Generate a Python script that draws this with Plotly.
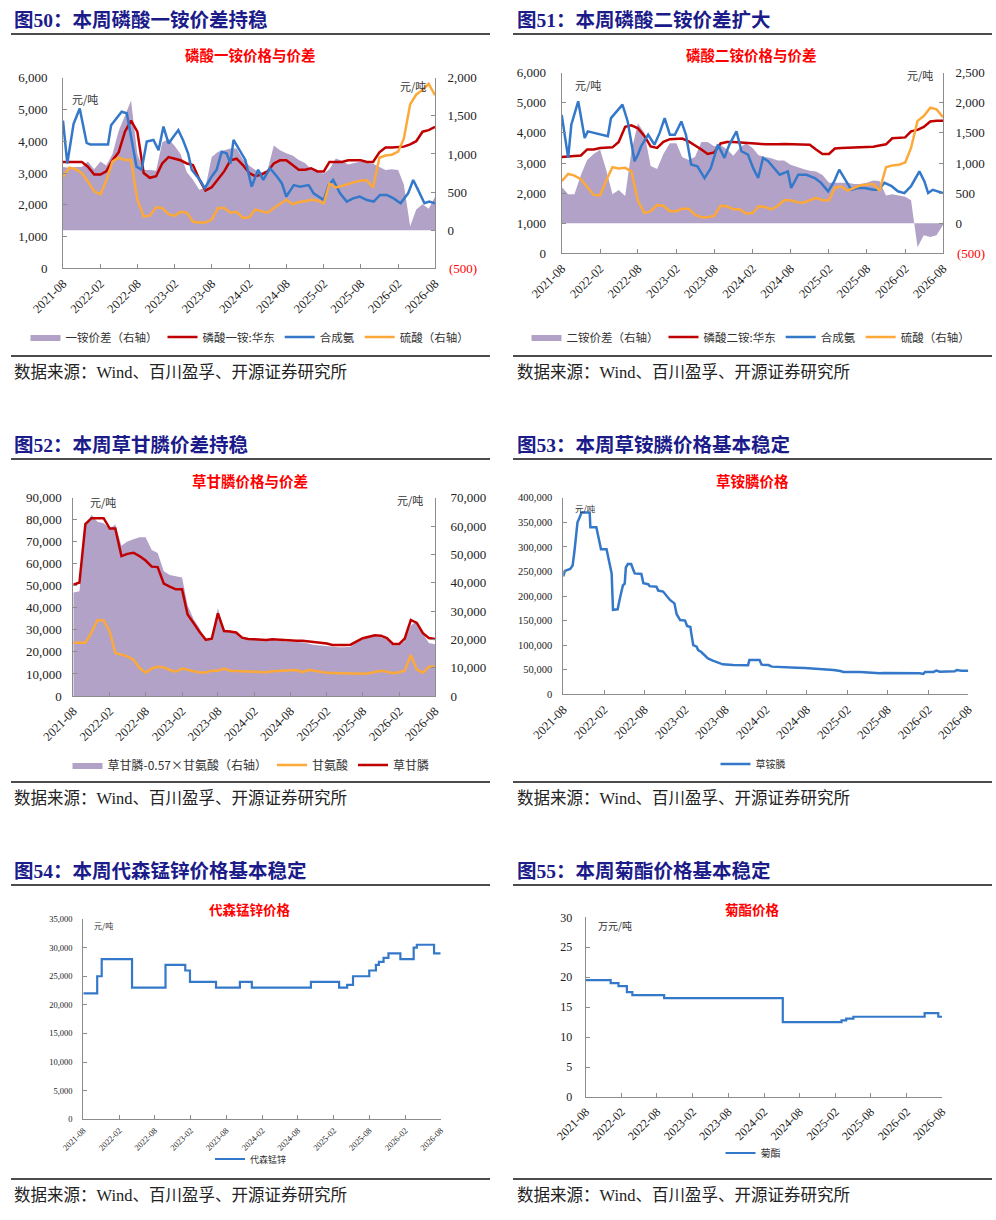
import plotly.graph_objects as go
import pandas as pd

W, H = 996, 1220
def X(px): return px / W
def Y(py): return 1 - py / H

# ---------------- data ----------------
months = [d.strftime("%Y-%m-%d") for d in pd.date_range("2021-08-01", "2026-08-01", freq="MS")]
tick_dates = [d.strftime("%Y-%m-%d") for d in pd.date_range("2021-08-01", "2026-08-01", freq="6MS")]
tick_labels = [d[:7] for d in tick_dates]

# Fig 50: MAP
map_spread = [830, 820, 830, 830, 900, 800, 900, 850, 1000, 1300, 1500, 1700, 1000, 790, 790, 780,
              1150, 1200, 1100, 1000, 760, 660, 530, 560, 960, 1030, 1050, 1070, 1070, 930, 850,
              790, 760, 790, 1110, 1050, 1010, 980, 920, 880, 800, 760, 745, 800, 940, 910, 860,
              880, 900, 880, 870, 830, 790, 800, 790, 600, 50, 270, 340, 280, 440]
map_price = [3350, 3350, 3350, 3350, 3200, 2950, 2950, 3050, 3400, 3650, 4300, 4650, 4300, 3000, 2850,
             2900, 3300, 3500, 3450, 3400, 3300, 3250, 2800, 2450, 2550, 2800, 3050, 3400, 3450, 3250,
             3000, 2900, 2950, 3050, 3300, 3400, 3400, 3250, 3100, 3100, 3150, 3050, 3050, 3350, 3350,
             3350, 3400, 3400, 3400, 3350, 3350, 3650, 3800, 3800, 3820, 3830, 3900, 4000, 4300, 4350, 4450]
amm50_dates = ["2021-08-01", "2021-08-22", "2021-09-22", "2021-10-22", "2021-11-25", "2021-12-13",
               "2022-03-10", "2022-03-25", "2022-05-16", "2022-06-10", "2022-07-01", "2022-07-28",
               "2022-08-22", "2022-09-16", "2022-10-19", "2022-11-13", "2022-12-07", "2023-01-01",
               "2023-01-25", "2023-02-18", "2023-03-13", "2023-04-07", "2023-04-25", "2023-06-04",
               "2023-06-28", "2023-08-01", "2023-08-25", "2023-09-19", "2023-10-13", "2023-11-01",
               "2023-11-16", "2023-12-16", "2024-01-13", "2024-02-13", "2024-03-16", "2024-04-10",
               "2024-05-13", "2024-06-16", "2024-07-10", "2024-08-01", "2024-09-07", "2024-10-07",
               "2024-11-19", "2024-12-13", "2025-02-01", "2025-02-25", "2025-03-19", "2025-04-22",
               "2025-05-25", "2025-06-25", "2025-07-28", "2025-09-01", "2025-10-04", "2025-11-04",
               "2025-12-07", "2026-01-10", "2026-02-13", "2026-03-22", "2026-04-16", "2026-05-10",
               "2026-06-10", "2026-07-04", "2026-08-01"]
ammonia_50 = [4650, 3300, 4550, 5030, 3950, 3900, 3900, 4500, 4930, 4880, 4150, 3200, 3100, 3990, 4040,
              3720, 4460, 3930, 4140, 4350, 4040, 3620, 3100, 2780, 2520, 2890, 3100, 3670, 3620, 3300,
              4040, 3720, 3410, 2570, 3100, 2780, 3150, 2890, 2680, 2260, 2620, 2570, 2620, 2360, 2150,
              2620, 2780, 2360, 2100, 2200, 2260, 2150, 2100, 2310, 2310, 2200, 2050, 2360, 2780, 2470,
              2050, 2100, 2050]
sulfuric_50 = [700, 820, 800, 750, 640, 510, 470, 650, 900, 950, 920, 920, 400, 180, 190, 300, 290, 210,
               190, 240, 230, 110, 100, 100, 140, 290, 290, 230, 240, 160, 170, 270, 250, 230, 290, 340,
               400, 340, 370, 380, 400, 390, 350, 610, 560, 580, 610, 630, 650, 650, 560, 950, 980, 990,
               1030, 1200, 1650, 1780, 1840, 1920, 1770]

# Fig 51: DAP
dap_spread = [600, 480, 480, 800, 1050, 1150, 1220, 900, 480, 550, 450, 1200, 1660, 1500, 950, 900, 1150,
              1330, 1330, 1100, 1050, 1100, 1350, 1350, 1280, 1300, 1230, 1120, 1250, 1330, 1250, 1130,
              1100, 1080, 1040, 1040, 970, 930, 900, 870, 860, 800, 670, 670, 670, 670, 650, 650, 670,
              710, 700, 460, 480, 460, 440, 380, -400, -200, -230, -200, -30]
dap_price = [3200, 3220, 3230, 3250, 3450, 3450, 3500, 3500, 3520, 3700, 4200, 4250, 4150, 3900, 3550,
             3500, 3700, 3790, 3800, 3810, 3720, 3600, 3450, 3300, 3350, 3650, 3700, 3700, 3690, 3680,
             3650, 3640, 3620, 3610, 3620, 3630, 3630, 3620, 3620, 3610, 3450, 3300, 3300, 3480, 3500,
             3500, 3510, 3520, 3530, 3540, 3580, 3620, 3820, 3830, 3850, 4050, 4100, 4200, 4380, 4400, 4400]
amm51_dates = ["2021-08-01", "2021-09-01", "2021-09-16", "2021-10-19", "2021-11-19", "2021-12-04",
               "2022-03-10", "2022-03-25", "2022-05-19", "2022-06-13", "2022-07-16", "2022-08-01",
               "2022-08-16", "2022-09-19", "2022-10-19", "2022-11-13", "2022-12-07", "2023-01-01",
               "2023-01-25", "2023-02-25", "2023-03-19", "2023-04-13", "2023-05-13", "2023-06-16",
               "2023-07-16", "2023-08-19", "2023-09-19", "2023-10-13", "2023-11-16", "2023-12-10",
               "2024-01-10", "2024-02-04", "2024-02-28", "2024-03-22", "2024-04-16", "2024-05-16",
               "2024-06-10", "2024-07-19", "2024-08-04", "2024-09-07", "2024-10-16", "2024-11-25",
               "2024-12-25", "2025-01-28", "2025-02-26", "2025-03-22", "2025-04-16", "2025-05-19",
               "2025-06-19", "2025-07-22", "2025-09-01", "2025-09-25", "2025-10-25", "2025-11-28",
               "2025-12-28", "2026-01-28", "2026-03-01", "2026-04-10", "2026-05-04", "2026-05-22",
               "2026-06-13", "2026-08-01"]
ammonia_51 = [4600, 3170, 4270, 5050, 3830, 4050, 3890, 4490, 4940, 4380, 3060, 3280, 3550, 3940, 3610,
              4000, 4490, 3940, 3940, 4380, 3940, 2950, 2890, 2500, 2830, 3610, 3170, 3610, 4050, 3390,
              3280, 2830, 2500, 3170, 3060, 2830, 2610, 2720, 2170, 2610, 2610, 2500, 2340, 2060, 2390,
              2780, 2500, 2110, 2170, 2170, 2110, 2110, 2340, 2230, 2060, 2000, 2230, 2720, 2390, 2000,
              2110, 2000]
sulfuric_51 = [700, 820, 790, 730, 600, 470, 460, 700, 930, 910, 920, 860, 370, 170, 200, 300, 290, 200,
               200, 240, 240, 140, 100, 100, 120, 290, 280, 230, 230, 160, 170, 280, 270, 230, 290, 380,
               380, 350, 340, 380, 420, 380, 380, 590, 610, 540, 580, 630, 640, 650, 540, 930, 960, 970,
               1010, 1250, 1700, 1780, 1920, 1890, 1760]

# Fig 52: glyphosate
gly_spread = [36500, 37000, 60000, 64000, 61500, 61000, 59000, 60500, 53000, 54500, 55300, 56000, 56000,
              51500, 50500, 44000, 42700, 42300, 41800, 32000, 27000, 23800, 19200, 20500, 31000, 23200,
              23000, 22300, 20800, 20300, 20000, 20000, 19900, 19700, 19600, 19300, 19100, 19100, 19000,
              18400, 18000, 17800, 17600, 17200, 17200, 17200, 17400, 19000, 20400, 20800, 21200, 20800,
              20000, 17900, 17900, 19300, 25000, 26300, 22000, 18700, 18300]
glycine = [24200, 24200, 24200, 28900, 34500, 34300, 29200, 19500, 18700, 18000, 16500, 12800, 10600,
           12500, 13300, 13000, 11800, 11000, 12500, 12000, 11200, 10700, 10700, 11500, 11500, 12500,
           11500, 11300, 11300, 11000, 11000, 10900, 10800, 11200, 11400, 11500, 11800, 11800, 10800,
           11800, 11500, 11000, 10500, 10400, 10300, 10200, 10000, 10000, 10100, 10300, 11000, 11500,
           11000, 10300, 10800, 11500, 18600, 12000, 10600, 13300, 13300]
glyphosate = [50500, 51500, 78000, 80700, 80700, 80700, 76000, 76000, 63500, 64500, 65000, 63500, 61500,
              58700, 58500, 51000, 49600, 48400, 48400, 37000, 33000, 29000, 25500, 26000, 37500, 29500,
              29300, 28800, 26500, 25900, 25700, 25600, 25400, 25700, 25500, 25200, 25100, 25100, 25100,
              24800, 24300, 24000, 23800, 23200, 23100, 23100, 23300, 24800, 26200, 26900, 27600, 27400,
              26300, 23600, 23600, 26000, 34500, 33200, 28500, 26300, 25900]

# Fig 53: glufosinate
glu_dates = ["2021-08-01", "2021-08-08", "2021-09-01", "2021-09-12", "2021-09-20", "2021-09-28",
             "2021-10-04", "2021-10-15", "2021-10-22", "2021-11-28", "2021-12-01", "2021-12-28",
             "2022-01-06", "2022-01-12", "2022-01-18", "2022-02-12", "2022-02-22", "2022-03-01",
             "2022-03-07", "2022-03-13", "2022-04-03", "2022-04-15", "2022-04-27", "2022-05-05",
             "2022-05-10", "2022-05-19", "2022-06-03", "2022-06-12", "2022-06-19", "2022-07-19",
             "2022-07-28", "2022-08-19", "2022-08-25", "2022-09-25", "2022-10-03", "2022-10-25",
             "2022-11-10", "2022-11-25", "2022-12-15", "2022-12-25", "2023-01-10", "2023-02-01",
             "2023-02-10", "2023-02-25", "2023-03-01", "2023-03-10", "2023-03-25", "2023-04-01",
             "2023-04-15", "2023-05-01", "2023-05-15", "2023-06-06", "2023-07-01", "2023-07-21",
             "2023-09-06", "2023-11-12", "2023-11-18", "2024-01-03", "2024-01-12", "2024-02-12",
             "2024-02-27", "2024-04-10", "2024-06-18", "2024-07-25", "2024-09-15", "2024-10-01",
             "2024-12-01", "2025-01-01", "2025-01-15", "2025-04-01", "2025-04-28", "2025-06-28",
             "2025-07-15", "2025-09-28", "2025-12-25", "2026-01-10", "2026-01-18", "2026-02-25",
             "2026-03-10", "2026-03-25", "2026-06-01", "2026-06-10", "2026-07-01", "2026-08-01"]
glufosinate = [240000, 251000, 255000, 262000, 290000, 328000, 350000, 361000, 370000, 370000, 340000,
               340000, 320000, 303000, 295000, 295000, 273000, 265000, 246000, 172000, 173000, 199000,
               222000, 225000, 258000, 265000, 265000, 254000, 246000, 245000, 226000, 224000, 220000,
               219000, 211000, 209000, 199000, 192000, 185000, 163000, 151000, 150000, 139000, 137000,
               124000, 100000, 97000, 90000, 86000, 80000, 73000, 68500, 64400, 61000, 59700, 59000,
               70000, 70000, 60300, 59500, 56300, 55000, 54200, 53500, 52200, 51500, 49500, 47500,
               45400, 45400, 44100, 42700, 43500, 43500, 42700, 41400, 45400, 45400, 48100, 45800,
               46800, 49500, 48100, 48100]

# Fig 54: mancozeb (step changes)
man_dates = ["2021-08-01", "2021-10-11", "2021-11-03", "2022-04-07", "2022-09-25", "2023-01-04",
             "2023-01-28", "2023-06-10", "2023-10-10", "2023-12-10", "2024-10-07", "2025-02-28",
             "2025-04-10", "2025-05-10", "2025-08-01", "2025-09-04", "2025-09-19", "2025-10-13",
             "2025-11-07", "2026-01-07", "2026-03-16", "2026-04-01", "2026-06-28", "2026-08-01"]
mancozeb = [22000, 25000, 28000, 23000, 27000, 26000, 24000, 23000, 24000, 23000, 24000, 23000,
            23500, 25000, 26000, 27000, 27500, 28200, 29000, 28000, 30000, 30500, 29000, 29000]

# Fig 55: pyrethroid (万元/吨, step changes)
pyr_dates = ["2021-08-01", "2021-12-07", "2022-01-16", "2022-02-28", "2022-03-28", "2022-09-07",
             "2024-05-07", "2025-03-04", "2025-03-28", "2025-05-04", "2026-05-04", "2026-07-13",
             "2026-08-01"]
pyrethroid = [19.5, 19.0, 18.5, 17.5, 17.0, 16.5, 12.5, 12.8, 13.1, 13.4, 14.0, 13.4, 13.4]

# ---------------- style ----------------
FONT = "Liberation Serif, Noto Sans CJK SC"
CJK = "Noto Sans CJK SC, Liberation Serif"
RED = "#C00000"
BLUE = "#3478CA"
ORANGE = "#FDA93A"
PURPLE = "#B2A2C7"
AXC = "#8C8C8C"
TXT = "#222222"

fig = go.Figure()

# Fig 50
fig.add_trace(go.Scatter(x=months, y=map_spread, name="一铵价差（右轴）", xaxis="x", yaxis="y",
                         fill="tozeroy", fillcolor=PURPLE, line=dict(width=0, color=PURPLE),
                         mode="lines", legend="legend"))
fig.add_trace(go.Scatter(x=months, y=map_price, name="磷酸一铵:华东", xaxis="x", yaxis="y2",
                         line=dict(color=RED, width=2.5), mode="lines", legend="legend"))
fig.add_trace(go.Scatter(x=amm50_dates, y=ammonia_50, name="合成氨", xaxis="x", yaxis="y2",
                         line=dict(color=BLUE, width=2.5), mode="lines", legend="legend"))
fig.add_trace(go.Scatter(x=months, y=sulfuric_50, name="硫酸（右轴）", xaxis="x", yaxis="y3",
                         line=dict(color=ORANGE, width=2.5), mode="lines", legend="legend"))
# Fig 51
fig.add_trace(go.Scatter(x=months, y=dap_spread, name="二铵价差（右轴）", xaxis="x2", yaxis="y4",
                         fill="tozeroy", fillcolor=PURPLE, line=dict(width=0, color=PURPLE),
                         mode="lines", legend="legend2"))
fig.add_trace(go.Scatter(x=months, y=dap_price, name="磷酸二铵:华东", xaxis="x2", yaxis="y5",
                         line=dict(color=RED, width=2.5), mode="lines", legend="legend2"))
fig.add_trace(go.Scatter(x=amm51_dates, y=ammonia_51, name="合成氨", xaxis="x2", yaxis="y5",
                         line=dict(color=BLUE, width=2.5), mode="lines", legend="legend2"))
fig.add_trace(go.Scatter(x=months, y=sulfuric_51, name="硫酸（右轴）", xaxis="x2", yaxis="y6",
                         line=dict(color=ORANGE, width=2.5), mode="lines", legend="legend2"))
# Fig 52
fig.add_trace(go.Scatter(x=months, y=gly_spread, name="草甘膦-0.57×甘氨酸（右轴）", xaxis="x3", yaxis="y7",
                         fill="tozeroy", fillcolor=PURPLE, line=dict(width=0, color=PURPLE),
                         mode="lines", legend="legend3"))
fig.add_trace(go.Scatter(x=months, y=glycine, name="甘氨酸", xaxis="x3", yaxis="y8",
                         line=dict(color=ORANGE, width=2.5), mode="lines", legend="legend3"))
fig.add_trace(go.Scatter(x=months, y=glyphosate, name="草甘膦", xaxis="x3", yaxis="y8",
                         line=dict(color=RED, width=2.5), mode="lines", legend="legend3"))
# Fig 53
fig.add_trace(go.Scatter(x=glu_dates, y=glufosinate, name="草铵膦", xaxis="x4", yaxis="y9",
                         line=dict(color=BLUE, width=2.5), mode="lines", legend="legend4"))
# Fig 54
fig.add_trace(go.Scatter(x=man_dates, y=mancozeb, name="代森锰锌", xaxis="x5", yaxis="y10",
                         line=dict(color=BLUE, width=2.2, shape="hv"), mode="lines", legend="legend5"))
# Fig 55
fig.add_trace(go.Scatter(x=pyr_dates, y=pyrethroid, name="菊酯", xaxis="x6", yaxis="y11",
                         line=dict(color=BLUE, width=2.2, shape="hv"), mode="lines", legend="legend6"))


def xax(x0, x1, anchor, fs):
    return dict(domain=[X(x0), X(x1)], anchor=anchor, type="date", automargin=False,
                range=["2021-08-01", "2026-08-01"], tickvals=tick_dates, ticktext=tick_labels,
                tickangle=-45, ticks="inside", ticklen=4, tickcolor=AXC, showline=True,
                linecolor=AXC, linewidth=1, showgrid=False, zeroline=False,
                tickfont=dict(family=FONT, size=fs, color=TXT), ticklabelstandoff=2)


def yax(y0, y1, anchor, rng, fs, side="left", **kw):
    d = dict(anchor=anchor, side=side, range=rng, ticks="inside", ticklen=4, tickcolor=AXC,
             showline=True, linecolor=AXC, linewidth=1, showgrid=False, zeroline=False,
             automargin=False, tickfont=dict(family=FONT, size=fs, color=TXT), tickformat=",d")
    if y0 is not None:
        d["domain"] = [Y(y1), Y(y0)]
    d.update(kw)
    return d


r50 = [-500, 0, 500, 1000, 1500, 2000]
r51 = [-500, 0, 500, 1000, 1500, 2000, 2500]

layout = dict(
    template="none",
    width=W, height=H, margin=dict(l=0, r=0, t=0, b=0, pad=0, autoexpand=False),
    paper_bgcolor="white", plot_bgcolor="rgba(0,0,0,0)", hovermode=False, showlegend=True,
    xaxis=xax(63, 435, "y", 12.5),
    yaxis=yax(77.7, 268.3, "x", [-500, 2000], 13, side="right", tickvals=r50,
              ticktext=[""] + [f"{v:,}" for v in r50[1:]], ticklabelstandoff=9),
    yaxis2=yax(None, None, "x", [0, 6000], 13, overlaying="y", dtick=1000, ticklabelstandoff=12),
    yaxis3=dict(anchor="x", overlaying="y", range=[-500, 2000], visible=False),
    xaxis2=xax(561.7, 943, "y4", 12.5),
    yaxis4=yax(72.7, 253.3, "x2", [-500, 2500], 13, side="right", tickvals=r51,
               ticktext=[""] + [f"{v:,}" for v in r51[1:]], ticklabelstandoff=9),
    yaxis5=yax(None, None, "x2", [0, 6000], 13, overlaying="y4", dtick=1000, ticklabelstandoff=12),
    yaxis6=dict(anchor="x2", overlaying="y4", range=[-500, 2500], visible=False),
    xaxis3=xax(73.3, 435, "y7", 12.5),
    yaxis7=yax(497.7, 696, "x3", [0, 70000], 13, side="right", dtick=10000, ticklabelstandoff=12),
    yaxis8=yax(None, None, "x3", [0, 90000], 13, overlaying="y7", dtick=10000, ticklabelstandoff=8),
    xaxis4=xax(563.3, 968.3, "y9", 12.5),
    yaxis9=yax(497.7, 694.3, "x4", [0, 400000], 10.5, dtick=50000, ticklabelstandoff=8),
    xaxis5=xax(83.3, 440.7, "y10", 8.5),
    yaxis10=yax(919, 1119.3, "x5", [0, 35000], 8.5, dtick=5000, ticklabelstandoff=8),
    xaxis6=xax(585.7, 942, "y11", 12),
    yaxis11=yax(917.3, 1097, "x6", [0, 30], 12, dtick=5, ticklabelstandoff=10),
)


def leg(cx, cy, fs):
    return dict(x=X(cx), y=Y(cy), xanchor="center", yanchor="middle", orientation="h",
                font=dict(family=CJK, size=fs, color="#333333"), bgcolor="rgba(0,0,0,0)",
                itemwidth=30, tracegroupgap=0, itemclick=False, borderwidth=0)


layout["legend"] = leg(250, 337, 11.5)
layout["legend2"] = leg(751, 337, 11.5)
layout["legend3"] = leg(251, 765, 12)
layout["legend4"] = leg(753, 764, 10)
layout["legend5"] = leg(251, 1159, 9)
layout["legend6"] = leg(753, 1153, 10)

fig.update_layout(**layout)

anns = []
shapes = []
headers = [(12, 20, "图50：本周磷酸一铵价差持稳"), (515, 20, "图51：本周磷酸二铵价差扩大"),
           (12, 445, "图52：本周草甘膦价差持稳"), (515, 445, "图53：本周草铵膦价格基本稳定"),
           (12, 871, "图54：本周代森锰锌价格基本稳定"), (515, 871, "图55：本周菊酯价格基本稳定")]
for hx, hy, t in headers:
    anns.append(dict(x=X(hx), y=Y(hy), xref="paper", yref="paper", xanchor="left", yanchor="middle",
                     text=f"<b>{t}</b>", showarrow=False,
                     font=dict(family=FONT, size=19.5, color="#1B1B8A")))

titles = [(250, 55, "磷酸一铵价格与价差", 14.5), (751, 55, "磷酸二铵价格与价差", 14.5),
          (250, 480, "草甘膦价格与价差", 14.5), (752, 480, "草铵膦价格", 14.5),
          (250, 909, "代森锰锌价格", 13.5), (752, 909, "菊酯价格", 13.5)]
for tx, ty, t, fs in titles:
    anns.append(dict(x=X(tx), y=Y(ty), xref="paper", yref="paper", xanchor="center", yanchor="middle",
                     text=f"<b>{t}</b>", showarrow=False, font=dict(family=CJK, size=fs, color="#FF0000")))

for sx, sy in [(12, 372), (515, 372), (12, 798), (515, 798), (12, 1195), (515, 1195)]:
    anns.append(dict(x=X(sx), y=Y(sy), xref="paper", yref="paper", xanchor="left", yanchor="middle",
                     text="数据来源：Wind、百川盈孚、开源证券研究所", showarrow=False,
                     font=dict(family=FONT, size=16.5, color="#222222")))

units = [(70, 99, "元/吨", 11), (398, 86, "元/吨", 11), (573, 85, "元/吨", 11), (905, 75, "元/吨", 11),
         (88, 502, "元/吨", 11), (395, 500, "元/吨", 11), (573, 508, "元/吨", 8.5),
         (92, 925, "元/吨", 8), (596, 925, "万元/吨", 10)]
for ux, uy, t, fs in units:
    anns.append(dict(x=X(ux), y=Y(uy), xref="paper", yref="paper", xanchor="left", yanchor="middle",
                     text=t, showarrow=False, font=dict(family=CJK, size=fs, color="#333333")))

for nx, ny in [(447, 268.5), (955, 253.5)]:
    anns.append(dict(x=X(nx), y=Y(ny), xref="paper", yref="paper", xanchor="left", yanchor="middle",
                     text="(500)", showarrow=False, font=dict(family=FONT, size=13, color="#FF0000")))

for ly in [34, 356, 459, 782, 885, 1179]:
    for lx0, lx1 in [(11, 490), (513, 992)]:
        shapes.append(dict(type="line", xref="paper", yref="paper", x0=X(lx0), x1=X(lx1),
                           y0=Y(ly), y1=Y(ly), line=dict(color="#111111", width=1.5)))

fig.update_layout(annotations=anns, shapes=shapes)
fig.write_html("out.html", config={"displayModeBar": False, "staticPlot": True},
               post_script="document.body.style.margin='0';document.body.style.padding='0';")
